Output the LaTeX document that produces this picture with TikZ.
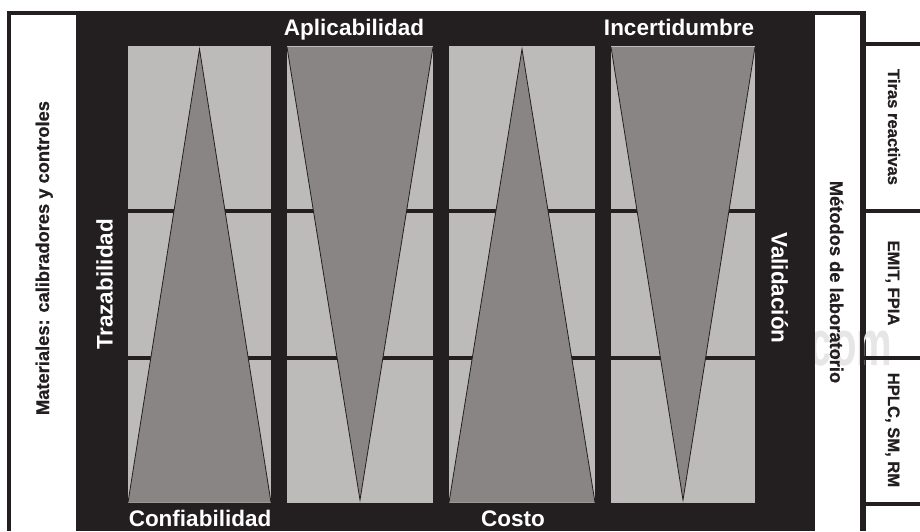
\documentclass[tikz,border=0pt]{standalone}
\usepackage{fontspec}
\setmainfont{Liberation Sans}[BoldFont={Liberation Sans Bold}]
\newfontfamily\lsbold{Liberation Sans Bold}
\newfontfamily\lsheavy{Liberation Sans Bold}[FakeBold=0.6]
\definecolor{ink}{HTML}{231F20}
\definecolor{panelgray}{HTML}{BCBBBA}
\definecolor{wedgegray}{HTML}{888584}
\definecolor{wmark}{HTML}{E6E6E6}
\begin{document}
\begin{tikzpicture}[x=1pt,y=-1pt,
  biglabel/.style={text=white, font=\lsbold\fontsize{22.5}{26}\selectfont, inner sep=0pt, anchor=base},
  sidelabel/.style={text=ink, font=\lsheavy\fontsize{18.3}{22}\selectfont, inner sep=0pt, anchor=base},
  celllabel/.style={text=ink, font=\lsheavy\fontsize{16.6}{20}\selectfont, inner sep=0pt, anchor=base},
  panel/.style={fill=panelgray},
  wedge/.style={fill=wedgegray},
  wedgeedge/.style={draw=ink, line width=0.8pt},
  gridline/.style={draw=ink, line width=4pt},
]
\useasboundingbox (0,0) rectangle (920,531);
\fill[white] (0,0) rectangle (920,531);
% frame
\fill[ink] (7,11) rectangle (866,531);
\fill[white] (11,15) rectangle (76,531);
\fill[white] (815,15) rectangle (862,531);
% watermark
\begin{scope}
\clip (815,15) rectangle (920,531);
\node[text=wmark, font=\lsbold\fontsize{40}{45}\selectfont, inner sep=0pt, anchor=base] (wm) at (851,365) {\scalebox{1}[1.6]{com}};
\end{scope}
% right column lines
\draw[ink, line width=4pt] (862,11) -- (862,531);
\draw[gridline] (862,43.7) -- (920,43.7);
\draw[gridline] (862,211.3) -- (920,211.3);
\draw[gridline] (862,358.3) -- (920,358.3);
\draw[gridline] (862,503.7) -- (920,503.7);
% panels
\fill[panel] (128,46) rectangle (271,502.5);
\fill[panel] (287,46) rectangle (433,502.5);
\fill[panel] (449,46) rectangle (595,502.5);
\fill[panel] (611,46) rectangle (755,502.5);
\draw[gridline] (128,211) -- (755,211);
\draw[gridline] (128,358) -- (755,358);
% wedges
\fill[wedge] (128,502.5) -- (199.5,49) -- (271,502.5) -- cycle;
\draw[wedgeedge] (128,502.5) -- (199.5,49) -- (271,502.5);
\fill[wedge] (287,47) -- (360,500) -- (433,47) -- cycle;
\draw[wedgeedge] (287,47) -- (360,500) -- (433,47);
\fill[wedge] (449,502.5) -- (522,49) -- (595,502.5) -- cycle;
\draw[wedgeedge] (449,502.5) -- (522,49) -- (595,502.5);
\fill[wedge] (611,47) -- (683,500) -- (755,47) -- cycle;
\draw[wedgeedge] (611,47) -- (683,500) -- (755,47);
% labels
\node[biglabel] (apl) at (354,35) {Aplicabilidad};
\node[biglabel] (inc) at (679,35) {Incertidumbre};
\node[biglabel] (con) at (200,526) {Confiabilidad};
\node[biglabel] (cos) at (513,526) {Costo};
\node[biglabel, rotate=90] (tra) at (112.5,284) {Trazabilidad};
\node[biglabel, rotate=-90] (val) at (771.5,288) {Validación};
\node[sidelabel, rotate=90] (mat) at (49,258) {Materiales: calibradores y controles};
\node[sidelabel, rotate=-90] (met) at (830,282) {Métodos de laboratorio};
\node[celllabel, rotate=-90] (tir) at (888,127) {Tiras reactivas};
\node[celllabel, rotate=-90] (emi) at (888,283) {EMIT, FPIA};
\node[celllabel, rotate=-90] (hpl) at (888,430) {HPLC, SM, RM};
\end{tikzpicture}
\end{document}
